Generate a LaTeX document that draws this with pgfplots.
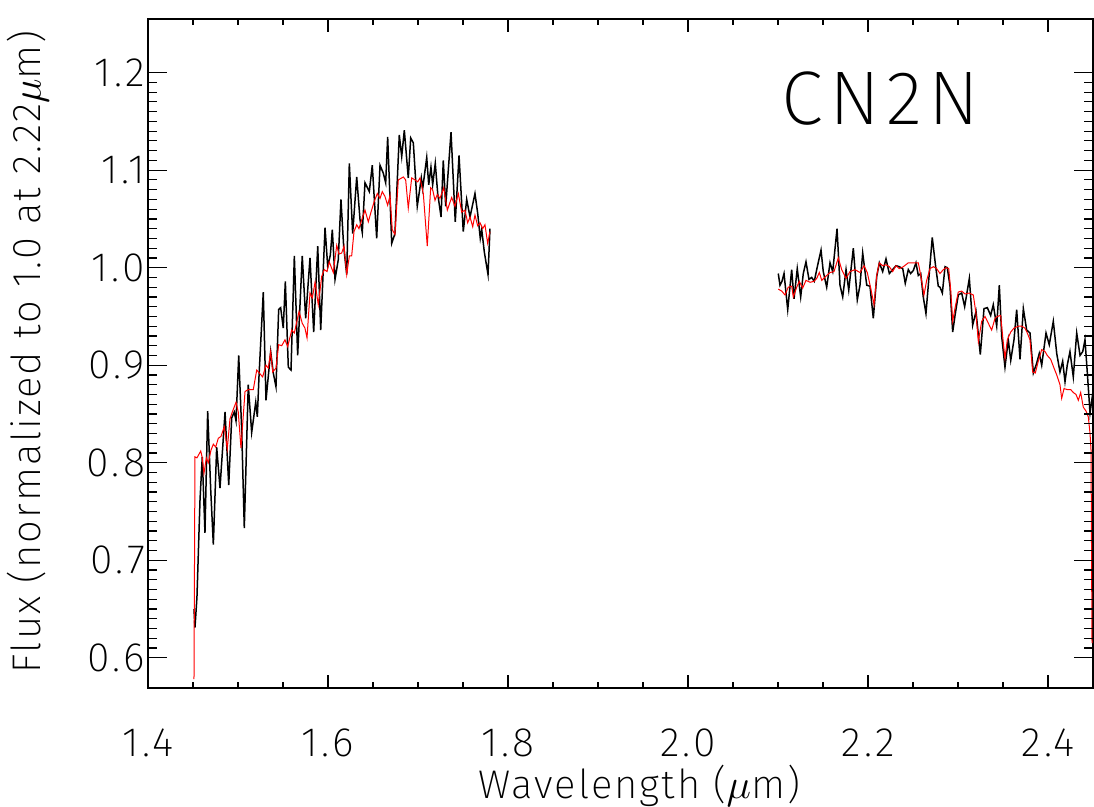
\documentclass[border=0pt]{standalone}
\usepackage{pgfplots}
\pgfplotsset{compat=1.18}
\usepackage{fontspec}
\setmainfont{Fira Sans ExtraLight}[LetterSpace=5]
\newfontfamily\tickfont{Fira Sans ExtraLight}[LetterSpace=8]
\newfontfamily\bigfont{Fira Sans ExtraLight}[LetterSpace=8]
\definecolor{idlred}{RGB}{255,0,0}

\begin{document}
\begin{tikzpicture}
\pgfplotsset{
  common/.style={
    scale only axis, width=472.5pt, height=334.5pt,
    at={(0,0)}, anchor=south west,
    xmin=1.4, xmax=2.45, ymin=0.569, ymax=1.255,
    tick align=inside,
    /pgf/number format/assume math mode=true,
    tick style={line width=0.6pt, black},
    axis line style={line width=0.8pt},
    ticklabel style={font=\tickfont\fontsize{20.5}{24}\selectfont},
  }
}
\begin{axis}[common,
  xtick={1.4,1.6,1.8,2.0,2.2,2.4},
  minor x tick num=3,
  xtick pos=both,
  major tick length=6.5pt, minor tick length=2.8pt,
  ytick=\empty,
  xticklabel style={inner sep=0pt, yshift=-20pt,/pgf/number format/.cd,fixed,fixed zerofill,precision=1},
  xlabel={Wavelength ($\mu$m)},
  every axis x label/.style={at={(axis description cs:0.52,-0.146)}, anchor=center, inner sep=0pt, font=\fontsize{20}{24}\selectfont},
]
% black: observed, H band
\addplot[black, line width=0.75pt] table {
1.4511 0.650
1.4522 0.631
1.4544 0.662
1.4578 0.762
1.4603 0.806
1.4633 0.728
1.4663 0.853
1.4697 0.772
1.4726 0.716
1.4763 0.816
1.4800 0.774
1.4856 0.852
1.4897 0.777
1.4930 0.846
1.4959 0.852
1.4978 0.843
1.5008 0.910
1.5041 0.834
1.5070 0.733
1.5114 0.880
1.5152 0.831
1.5197 0.862
1.5215 0.847
1.5233 0.888
1.5281 0.975
1.5311 0.864
1.5363 0.914
1.5392 0.892
1.5422 0.878
1.5452 0.957
1.5474 0.959
1.5503 0.938
1.5526 0.986
1.5559 0.898
1.5589 0.895
1.5626 1.012
1.5663 0.910
1.5714 1.012
1.5752 0.948
1.5800 1.010
1.5841 0.934
1.5886 1.022
1.5919 0.936
1.5967 1.041
1.5997 1.001
1.6026 1.013
1.6048 1.039
1.6078 0.988
1.6114 1.008
1.6144 1.070
1.6174 1.022
1.6208 0.993
1.6237 1.107
1.6274 1.035
1.6319 1.093
1.6356 1.049
1.6381 1.036
1.6411 1.087
1.6459 1.078
1.6492 1.105
1.6541 1.030
1.6578 1.105
1.6614 1.097
1.6641 1.087
1.6663 1.134
1.6708 1.025
1.6744 1.035
1.6792 1.136
1.6819 1.114
1.6848 1.141
1.6892 1.092
1.6919 1.133
1.6948 1.128
1.6992 1.063
1.7037 1.092
1.7052 1.081
1.7097 1.113
1.7119 1.085
1.7144 1.103
1.7163 1.085
1.7192 1.107
1.7219 1.076
1.7256 1.052
1.7281 1.110
1.7308 1.063
1.7367 1.139
1.7414 1.047
1.7456 1.115
1.7503 1.037
1.7541 1.070
1.7578 1.052
1.7633 1.076
1.7663 1.056
1.7692 1.030
1.7708 1.039
1.7737 1.016
1.7778 0.993
1.7800 1.040
};
% black: observed, K band
\addplot[black, line width=0.75pt] table {
2.1003 0.994
2.1022 0.982
2.1044 0.986
2.1067 0.994
2.1108 0.957
2.1152 0.998
2.1178 0.968
2.1214 0.999
2.1252 0.970
2.1281 0.994
2.1311 1.006
2.1344 0.988
2.1374 0.990
2.1403 0.986
2.1437 1.001
2.1478 1.018
2.1503 0.996
2.1541 0.980
2.1578 1.005
2.1608 0.996
2.1656 1.040
2.1689 0.982
2.1719 0.970
2.1756 0.998
2.1786 0.977
2.1837 1.020
2.1881 0.967
2.1911 0.982
2.1941 1.015
2.1986 0.982
2.2022 0.981
2.2059 0.948
2.2097 0.991
2.2126 1.005
2.2163 0.996
2.2200 1.009
2.2237 0.994
2.2274 0.998
2.2311 1.002
2.2348 1.001
2.2386 0.999
2.2414 0.984
2.2448 0.998
2.2474 0.994
2.2503 0.997
2.2533 1.005
2.2559 0.992
2.2586 0.994
2.2614 0.970
2.2644 0.953
2.2670 0.982
2.2714 1.031
2.2752 1.001
2.2781 0.981
2.2800 0.980
2.2826 0.974
2.2856 1.001
2.2881 1.000
2.2911 0.981
2.2941 0.934
2.2967 0.951
2.3003 0.972
2.3041 0.974
2.3074 0.960
2.3126 0.989
2.3163 0.941
2.3200 0.955
2.3248 0.911
2.3289 0.958
2.3326 0.959
2.3363 0.951
2.3392 0.962
2.3430 0.940
2.3459 0.982
2.3486 0.929
2.3522 0.898
2.3559 0.926
2.3586 0.905
2.3622 0.926
2.3652 0.957
2.3689 0.906
2.3726 0.958
2.3763 0.936
2.3800 0.933
2.3837 0.892
2.3874 0.902
2.3903 0.912
2.3930 0.900
2.3978 0.933
2.4014 0.921
2.4059 0.945
2.4097 0.912
2.4133 0.893
2.4163 0.904
2.4189 0.883
2.4214 0.900
2.4244 0.914
2.4281 0.888
2.4319 0.933
2.4356 0.910
2.4386 0.914
2.4411 0.926
2.4437 0.892
2.4467 0.851
2.4497 0.871
};
% red: model, H band
\addplot[idlred, line width=0.5pt] table {
1.4511 0.578
1.4522 0.806
1.4544 0.805
1.4586 0.812
1.4603 0.805
1.4622 0.789
1.4648 0.805
1.4670 0.800
1.4700 0.813
1.4726 0.819
1.4752 0.816
1.4781 0.825
1.4811 0.827
1.4848 0.837
1.4881 0.814
1.4911 0.845
1.4937 0.852
1.4978 0.862
1.5003 0.852
1.5033 0.815
1.5078 0.873
1.5114 0.875
1.5170 0.875
1.5208 0.895
1.5274 0.888
1.5311 0.900
1.5337 0.897
1.5363 0.914
1.5386 0.893
1.5422 0.897
1.5452 0.921
1.5486 0.920
1.5522 0.926
1.5552 0.919
1.5597 0.936
1.5626 0.933
1.5678 0.955
1.5714 0.943
1.5744 0.938
1.5767 0.928
1.5800 0.974
1.5826 0.969
1.5856 0.985
1.5892 0.962
1.5930 0.991
1.5959 0.998
1.5989 0.996
1.6014 1.006
1.6059 0.995
1.6097 1.023
1.6122 1.014
1.6152 1.015
1.6178 1.022
1.6208 0.993
1.6237 1.012
1.6263 1.012
1.6289 1.037
1.6319 1.044
1.6344 1.040
1.6381 1.051
1.6411 1.059
1.6448 1.047
1.6478 1.057
1.6514 1.068
1.6548 1.076
1.6578 1.071
1.6603 1.078
1.6633 1.073
1.6663 1.064
1.6689 1.074
1.6714 1.039
1.6744 1.034
1.6781 1.090
1.6837 1.093
1.6863 1.090
1.6892 1.061
1.6930 1.092
1.6967 1.090
1.6997 1.088
1.7022 1.092
1.7059 1.076
1.7103 1.022
1.7141 1.082
1.7163 1.080
1.7189 1.069
1.7214 1.075
1.7244 1.071
1.7286 1.082
1.7326 1.059
1.7374 1.072
1.7411 1.063
1.7448 1.076
1.7486 1.057
1.7522 1.059
1.7552 1.046
1.7578 1.052
1.7608 1.042
1.7633 1.054
1.7663 1.043
1.7689 1.046
1.7719 1.040
1.7744 1.044
1.7774 1.025
1.7800 1.037
};
% red: model, K band
\addplot[idlred, line width=0.5pt] table {
2.1003 0.978
2.1041 0.976
2.1078 0.972
2.1114 0.980
2.1152 0.981
2.1170 0.970
2.1208 0.980
2.1237 0.986
2.1274 0.979
2.1311 0.987
2.1356 0.985
2.1400 0.986
2.1430 0.989
2.1459 0.995
2.1486 0.987
2.1541 0.992
2.1578 0.995
2.1622 0.996
2.1670 1.010
2.1708 0.998
2.1756 0.989
2.1800 0.996
2.1856 0.998
2.1911 0.995
2.1956 1.002
2.1992 0.995
2.2030 0.979
2.2067 0.962
2.2097 0.992
2.2126 1.005
2.2163 1.002
2.2200 1.003
2.2237 1.001
2.2274 0.996
2.2311 1.002
2.2348 0.999
2.2392 1.001
2.2448 1.005
2.2503 1.005
2.2559 1.005
2.2586 0.992
2.2622 0.972
2.2652 0.987
2.2689 0.999
2.2726 1.001
2.2763 0.999
2.2800 0.994
2.2837 0.998
2.2867 1.000
2.2897 0.999
2.2919 0.977
2.2941 0.945
2.2970 0.960
2.3003 0.975
2.3041 0.976
2.3078 0.973
2.3126 0.974
2.3170 0.972
2.3200 0.953
2.3226 0.924
2.3263 0.945
2.3300 0.950
2.3337 0.943
2.3374 0.936
2.3411 0.948
2.3437 0.950
2.3474 0.951
2.3497 0.929
2.3522 0.907
2.3548 0.926
2.3586 0.934
2.3622 0.938
2.3670 0.940
2.3708 0.940
2.3744 0.938
2.3770 0.933
2.3800 0.926
2.3830 0.893
2.3859 0.892
2.3892 0.904
2.3930 0.916
2.3967 0.914
2.3992 0.910
2.4030 0.906
2.4067 0.897
2.4097 0.890
2.4133 0.880
2.4152 0.866
2.4178 0.876
2.4214 0.875
2.4252 0.875
2.4281 0.872
2.4311 0.870
2.4337 0.864
2.4363 0.872
2.4392 0.857
2.4422 0.853
2.4448 0.847
2.4467 0.830
2.4478 0.813
2.4489 0.615
};
\node[font=\bigfont\fontsize{38}{44}\selectfont] at (axis cs:2.214,1.1735) {CN2N};
\end{axis}
\begin{axis}[common,
  xtick=\empty,
  ytick={0.6,0.7,0.8,0.9,1.0,1.1,1.2},
  minor y tick num=9,
  ytick pos=both,
  major tick length=9.5pt, minor tick length=4.7pt,
  axis line style={draw=none},
  yticklabel style={xshift=2pt,/pgf/number format/.cd,fixed,fixed zerofill,precision=1},
  ylabel={Flux (normalized to 1.0 at 2.22$\mu$m)},
  every axis y label/.style={at={(axis description cs:-0.127,0.502)}, rotate=90, anchor=center, font=\fontsize{20}{24}\selectfont},
]
\end{axis}
\pgfresetboundingbox
\path (-74pt,-59.5pt) rectangle (473pt,344pt);
\end{tikzpicture}
\end{document}
